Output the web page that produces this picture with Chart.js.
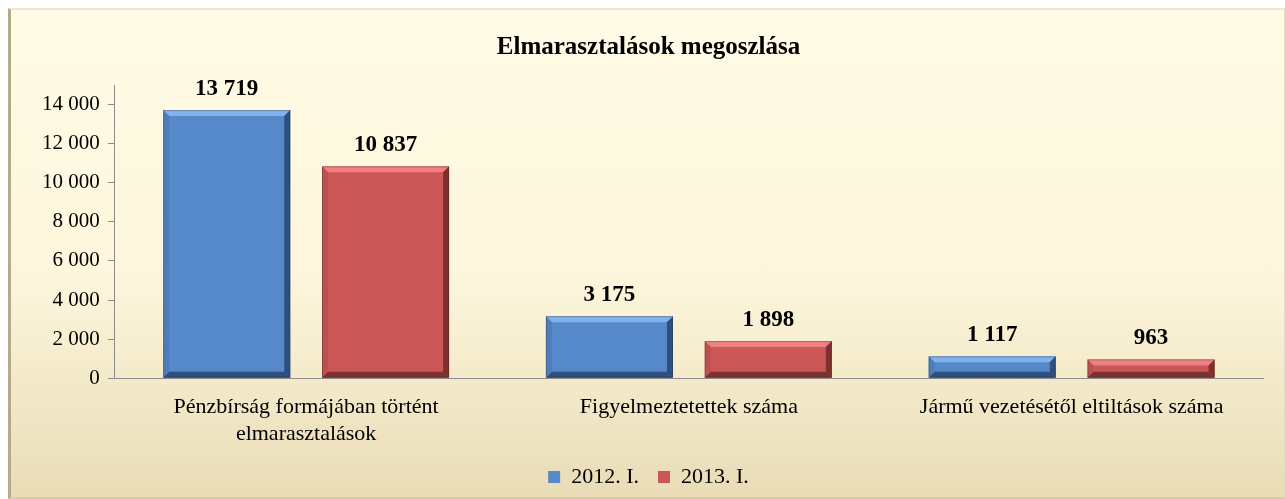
<!DOCTYPE html>
<html>
<head>
<meta charset="utf-8">
<script src="https://cdn.jsdelivr.net/npm/chart.js@4"></script>
<style>
  html, body { margin: 0; padding: 0; background: #fff; }
  #frame {
    position: absolute; left: 8px; top: 8px; width: 1273px; height: 487px;
    background: linear-gradient(to bottom, #fffbe6 0%, #fdf6dc 55%, #e9dcb6 100%);
    border-left: 3px solid #b4aa8c; border-top: 2px solid #ece6d2;
    border-right: 2px solid #e4dcc2; border-bottom: 2px solid #d8cca6;
  }
  #wrap { position: absolute; left: 0; top: 0; width: 1285px; height: 499px; }
</style>
</head>
<body>
<div id="frame"></div>
<div id="wrap"><canvas id="c" width="1285" height="499"></canvas></div>
<script>
'use strict';

var categories = [
    ['Pénzbírság formájában történt', 'elmarasztalások'],
    'Figyelmeztetettek száma',
    'Jármű vezetésétől eltiltások száma'
];
var seriesNames = ['2012. I.', '2013. I.'];
var values2012 = [13719, 3175, 1117];
var values2013 = [10837, 1898, 963];
var yTicks = [0, 2000, 4000, 6000, 8000, 10000, 12000, 14000];

var SERIF = '"Liberation Serif", "Times New Roman", serif';

function fmt(n) {
    return String(n).replace(/\B(?=(\d{3})+(?!\d))/g, ' ');
}

// kis 3D-s perem a hasábokra + értékcímkék
var bevelPlugin = {
    id: 'bevel',
    afterDatasetsDraw: function(chart) {
        var ctx = chart.ctx;
        var shades = [
            { light: 'rgba(140,185,240,0.85)', dark: 'rgba(35,60,100,0.75)', side: 'rgba(70,110,170,0.45)' },
            { light: 'rgba(245,135,135,0.85)', dark: 'rgba(100,35,35,0.75)', side: 'rgba(170,70,70,0.45)' }
        ];
        chart.data.datasets.forEach(function(ds, i) {
            var meta = chart.getDatasetMeta(i);
            meta.data.forEach(function(bar, j) {
                var l = bar.x - bar.width / 2, r = bar.x + bar.width / 2;
                var t = bar.y, bot = bar.base;
                var b = Math.min(6, (bot - t) / 3);
                var s = shades[i];
                ctx.save();
                ctx.fillStyle = s.light;
                ctx.beginPath();
                ctx.moveTo(l, t); ctx.lineTo(r, t); ctx.lineTo(r - b, t + b); ctx.lineTo(l + b, t + b);
                ctx.closePath(); ctx.fill();
                ctx.fillStyle = s.dark;
                ctx.beginPath();
                ctx.moveTo(r, t); ctx.lineTo(r, bot); ctx.lineTo(r - b, bot - b); ctx.lineTo(r - b, t + b);
                ctx.closePath(); ctx.fill();
                ctx.beginPath();
                ctx.moveTo(l, bot); ctx.lineTo(r, bot); ctx.lineTo(r - b, bot - b); ctx.lineTo(l + b, bot - b);
                ctx.closePath(); ctx.fill();
                ctx.fillStyle = s.side;
                ctx.beginPath();
                ctx.moveTo(l, t); ctx.lineTo(l + b, t + b); ctx.lineTo(l + b, bot - b); ctx.lineTo(l, bot);
                ctx.closePath(); ctx.fill();
                ctx.strokeStyle = 'rgba(40,40,40,0.3)';
                ctx.lineWidth = 1;
                ctx.strokeRect(l + 0.5, t + 0.5, r - l - 1, bot - t - 1);
                ctx.restore();

                ctx.save();
                ctx.font = 'bold 23px ' + SERIF;
                ctx.fillStyle = '#000';
                ctx.textAlign = 'center';
                ctx.textBaseline = 'middle';
                ctx.fillText(fmt(ds.data[j]), bar.x, t - 21);
                ctx.restore();
            });
        });
    }
};

var ctx = document.getElementById('c').getContext('2d');
var chart = new Chart(ctx, {
    type: 'bar',
    data: {
        labels: categories,
        datasets: [{
            label: seriesNames[0],
            data: values2012,
            backgroundColor: '#5589ca',
            borderWidth: 0,
            categoryPercentage: 0.83,
            barPercentage: 0.8
        }, {
            label: seriesNames[1],
            data: values2013,
            backgroundColor: '#cb5757',
            borderWidth: 0,
            categoryPercentage: 0.83,
            barPercentage: 0.8
        }]
    },
    options: {
        responsive: false,
        animation: false,
        layout: { padding: { left: 34, right: 22, top: 18, bottom: 1 } },
        plugins: {
            title: {
                display: true,
                text: 'Elmarasztalások megoszlása',
                color: '#000',
                font: { family: SERIF, size: 25, weight: 'bold' },
                padding: { top: 15, bottom: 22 }
            },
            legend: {
                position: 'bottom',
                maxHeight: 53,
                labels: {
                    color: '#000',
                    font: { family: SERIF, size: 22 },
                    boxWidth: 12,
                    boxHeight: 12,
                    padding: 19
                }
            },
            tooltip: { enabled: false }
        },
        scales: {
            x: {
                grid: { display: false, drawTicks: true, tickLength: 16 },
                border: { color: '#8c8c8c' },
                ticks: {
                    color: '#000',
                    font: { family: SERIF, size: 22 },
                    padding: 0,
                    maxRotation: 0
                }
            },
            y: {
                min: 0,
                max: 15000,
                afterBuildTicks: function(axis) {
                    axis.ticks = yTicks.map(function(v) { return { value: v }; });
                },
                grid: { drawOnChartArea: false, tickLength: 7, color: '#8c8c8c' },
                border: { color: '#8c8c8c' },
                ticks: {
                    color: '#000',
                    font: { family: SERIF, size: 21 },
                    padding: 8,
                    callback: function(v) { return fmt(v); }
                }
            }
        }
    },
    plugins: [bevelPlugin]
});
</script>
</body>
</html>
